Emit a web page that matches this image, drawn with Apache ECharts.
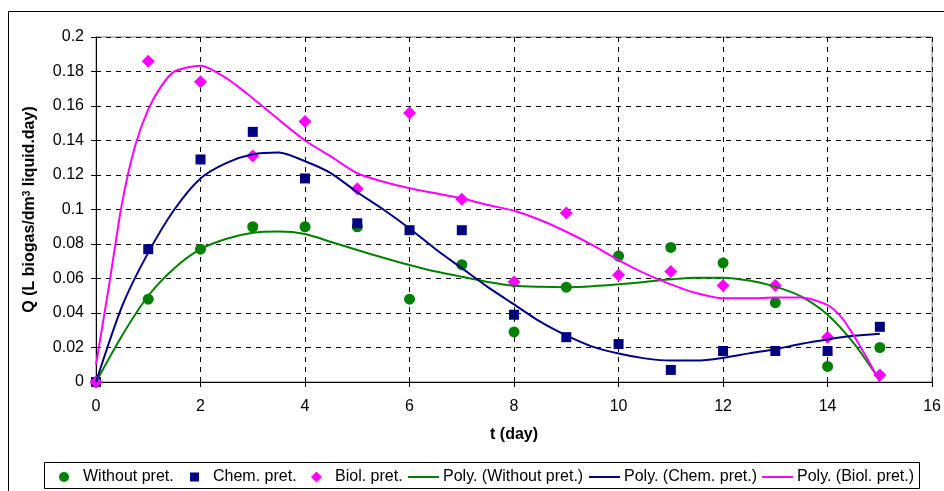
<!DOCTYPE html>
<html>
<head>
<meta charset="utf-8">
<script src="https://cdn.jsdelivr.net/npm/echarts@6/dist/echarts.min.js"></script>
<style>
  html, body { margin: 0; padding: 0; background: #fff; }
  #chart { width: 944px; height: 491px; }
</style>
</head>
<body>
<div id="chart"></div>
<script>
// DATA

const days = [0, 1, 2, 3, 4, 5, 6, 7, 8, 9, 10, 11, 12, 13, 14, 15];
const withoutPret = [0, 0.048, 0.077, 0.090, 0.090, 0.090, 0.048, 0.068, 0.029, 0.055, 0.073, 0.078, 0.069, 0.046, 0.009, 0.020];
const chemPret = [0, 0.077, 0.129, 0.145, 0.118, 0.092, 0.088, 0.088, 0.039, 0.026, 0.022, 0.007, 0.018, 0.018, 0.018, 0.032];
const biolPret = [0, 0.186, 0.174, 0.131, 0.151, 0.112, 0.156, 0.106, 0.058, 0.098, 0.062, 0.064, 0.056, 0.056, 0.026, 0.004];

// trend lines, sampled from the drawn curves
const curveT = [0, 0.5, 1, 1.5, 2, 2.5, 3, 3.5, 4, 4.5, 5, 5.5, 6, 6.5, 7, 7.5,
                8, 8.5, 9, 9.5, 10, 10.5, 11, 11.5, 12, 12.5, 13, 13.5, 14, 14.5, 15];
const polyWithout = [0, 0.027, 0.050, 0.066, 0.077, 0.083, 0.0865, 0.0872, 0.0858, 0.0812, 0.0765, 0.072, 0.0678, 0.064, 0.061, 0.058,
                     0.0558, 0.0552, 0.055, 0.0555, 0.0566, 0.058, 0.0595, 0.0605, 0.0605, 0.0588, 0.0553, 0.0495, 0.039, 0.0225, 0.001];
const polyChem = [0, 0.044, 0.075, 0.100, 0.118, 0.127, 0.132, 0.133, 0.128, 0.121, 0.110, 0.100, 0.089, 0.077, 0.066, 0.055,
                  0.045, 0.035, 0.027, 0.0205, 0.0165, 0.0137, 0.0124, 0.0124, 0.014, 0.0166, 0.019, 0.0222, 0.0247, 0.0268, 0.028];
const biolCurveT = [0, 0.25, 0.5, 0.75, 1, 1.25, 1.5, 2, 2.5, 3, 3.5, 4, 4.5, 5, 5.5, 6, 6.5, 7, 7.5,
                    8, 8.5, 9, 9.5, 10, 10.5, 11, 11.5, 12, 12.5, 13, 13.5, 14, 14.25, 14.5, 14.75, 15];
const polyBiol = [0.010, 0.056, 0.104, 0.137, 0.158, 0.1715, 0.180, 0.1834, 0.176, 0.1645, 0.152, 0.140, 0.1306, 0.121, 0.1161, 0.1123, 0.1094, 0.1065, 0.1026,
                  0.0993, 0.0939, 0.0871, 0.0794, 0.0707, 0.063, 0.0566, 0.0514, 0.0485, 0.0485, 0.049, 0.049, 0.0446, 0.038, 0.027, 0.014, 0.0];

const names = ['Without pret.', 'Chem. pret.', 'Biol. pret.',
               'Poly. (Without pret.)', 'Poly. (Chem. pret.)', 'Poly. (Biol. pret.)'];
const colors = ['#008000', '#000080', '#FF00FF'];

function pairs(xs, ys) {
  return xs.map((x, i) => [x, ys[i]]);
}

// CHART
const FONT = '"Liberation Sans", Arial, sans-serif';
const LINE_ICON = 'path://M0,0 L31,0 L31,2 L0,2 Z';
const chart = echarts.init(document.getElementById('chart'), null, { renderer: 'canvas' });

function legendItem(name, icon, left, width, height, textPad) {
  return {
    data: [{ name: name, icon: icon }],
    left: left,
    top: 469,
    padding: 0,
    itemWidth: width,
    itemHeight: height,
    symbolKeepAspect: true,
    selectedMode: false,
    itemStyle: { opacity: 1 },
    textStyle: { fontFamily: FONT, fontSize: 16, color: '#000', padding: [0, 0, 0, textPad] }
  };
}

chart.setOption({
  animation: false,
  backgroundColor: '#fff',
  textStyle: { fontFamily: FONT },
  graphic: [
    { type: 'rect', shape: { x: 8.5, y: 11.5, width: 1000, height: 1000 },
      style: { fill: 'none', stroke: '#000', lineWidth: 1 } },
    { type: 'rect', shape: { x: 44.5, y: 462.5, width: 875, height: 26 },
      style: { fill: 'none', stroke: '#000', lineWidth: 1 } }
  ],
  legend: [
    legendItem(names[0], 'circle', 59, 10, 10, 9),
    legendItem(names[1], 'rect', 190, 9, 9, 9),
    legendItem(names[2], 'diamond', 311, 11, 11, 8),
    legendItem(names[3], LINE_ICON, 408, 31, 10, -1),
    legendItem(names[4], LINE_ICON, 589, 31, 10, -1),
    legendItem(names[5], LINE_ICON, 762, 31, 10, -1)
  ],
  grid: {
    left: 96, right: 9, top: 37, bottom: 109,
    show: true, borderColor: '#808080', borderWidth: 1, backgroundColor: '#fff'
  },
  xAxis: {
    type: 'value', min: 0, max: 16, interval: 2,
    name: 't (day)', nameLocation: 'middle', nameGap: 45,
    nameTextStyle: { fontFamily: FONT, fontSize: 16, fontWeight: 'bold', color: '#000' },
    axisLine: { onZero: false, lineStyle: { color: '#000', width: 1 } },
    axisTick: { show: true, inside: false, length: 5, lineStyle: { color: '#000' } },
    axisLabel: { fontFamily: FONT, fontSize: 16, color: '#000', margin: 17 },
    splitLine: { show: true, lineStyle: { color: '#000', type: [5, 5], width: 1 } }
  },
  yAxis: {
    type: 'value', min: 0, max: 0.2, interval: 0.02,
    name: 'Q (L biogas/dm{sup|3} liquid.day)', nameLocation: 'middle', nameGap: 58,
    nameTextStyle: {
      fontFamily: FONT, fontSize: 16, fontWeight: 'bold', color: '#000',
      rich: { sup: { fontFamily: FONT, fontSize: 10, fontWeight: 'bold', color: '#000', verticalAlign: 'top', padding: [0, 0, 6, 0] } }
    },
    axisLine: { show: true, lineStyle: { color: '#000', width: 1 } },
    axisTick: { show: true, inside: false, length: 5, lineStyle: { color: '#000' } },
    axisLabel: { fontFamily: FONT, fontSize: 16, color: '#000', margin: 12,
                 formatter: v => String(+v.toFixed(2)) },
    splitLine: { show: true, lineStyle: { color: '#000', type: [5, 5], width: 1 } }
  },
  series: [
    { name: names[0], type: 'scatter', data: pairs(days, withoutPret),
      symbol: 'circle', symbolSize: 11, itemStyle: { color: colors[0], opacity: 1 } },
    { name: names[1], type: 'scatter', data: pairs(days, chemPret),
      symbol: 'rect', symbolSize: 10, itemStyle: { color: colors[1], opacity: 1 } },
    { name: names[2], type: 'scatter', data: pairs(days, biolPret),
      symbol: 'diamond', symbolSize: 13, itemStyle: { color: colors[2], opacity: 1 } },
    { name: names[3], type: 'line', data: pairs(curveT, polyWithout), smooth: 0.25,
      symbol: 'none', lineStyle: { color: colors[0], width: 2 }, itemStyle: { color: colors[0] } },
    { name: names[4], type: 'line', data: pairs(curveT, polyChem), smooth: 0.25,
      symbol: 'none', lineStyle: { color: colors[1], width: 2 }, itemStyle: { color: colors[1] } },
    { name: names[5], type: 'line', data: pairs(biolCurveT, polyBiol), smooth: 0.25,
      symbol: 'none', lineStyle: { color: colors[2], width: 2 }, itemStyle: { color: colors[2] } }
  ]
});
</script>
</body>
</html>
